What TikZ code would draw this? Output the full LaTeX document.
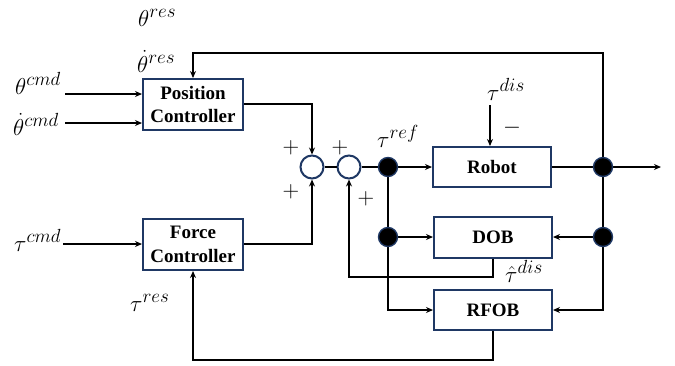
\documentclass[tikz,border=0pt]{standalone}
\usepackage{fix-cm}
\usepackage{fontspec}
\setmainfont{Liberation Serif}
\DeclareMathSizes{23}{23}{19}{14}
\usetikzlibrary{arrows.meta}
\definecolor{navy}{RGB}{31,56,100}
\tikzset{
  blk/.style={draw=navy, line width=2pt, fill=white, inner sep=0pt, align=center,
    font=\fontsize{19}{23.5}\selectfont\bfseries},
  sumc/.style={circle, draw=navy, line width=2pt, fill=white, minimum size=23pt, inner sep=0pt},
  dotc/.style={circle, draw=navy, line width=1.4pt, fill=black, minimum size=19pt, inner sep=0pt},
  wire/.style={line width=2pt, black},
  arr/.style={wire, -{Stealth[length=7pt,width=6pt]}},
  lbl/.style={inner sep=0pt, font=\fontsize{23}{27}\selectfont},
}
\begin{document}
\begin{tikzpicture}[x=1pt,y=-1pt]
\path[use as bounding box] (0,0) rectangle (675,365);
% blocks
\node[blk, minimum width=100pt, minimum height=51pt] (pc) at (193,104.5) {Position\\Controller};
\node[blk, minimum width=100pt, minimum height=51pt] (fc) at (193,244.5) {Force\\Controller};
\node[blk, minimum width=118pt, minimum height=40pt] (robot) at (492,167) {Robot};
\node[blk, minimum width=118pt, minimum height=41pt] (dob) at (493,237) {DOB};
\node[blk, minimum width=118pt, minimum height=40pt] (rfob) at (493,310) {RFOB};
% junctions
\node[sumc] (s1) at (312,167) {};
\node[sumc] (s2) at (349,167) {};
% coordinates
\coordinate (in1) at (65,94);
\coordinate (in2) at (65,123);
\coordinate (in3) at (63,244);
\coordinate (out) at (661,167);
\coordinate (dis) at (490,105);
\coordinate (fbtop) at (603,53);
\coordinate (c1) at (349,277);
\coordinate (c2) at (193,360);
\coordinate (p1) at (388,167);
\coordinate (p2) at (388,237);
\coordinate (p3) at (603,167);
\coordinate (p4) at (603,237);
% wires
\draw[arr] (in1) -- (in1 -| pc.west);
\draw[arr] (in2) -- (in2 -| pc.west);
\draw[arr] (in3) -- (in3 -| fc.west);
\draw[arr] (pc.east |- 0,104) -| (s1.north);
\draw[arr] (fc.east |- 0,244) -| (s1.south);
\draw[wire] (s1.east) -- (s2.west);
\draw[wire] (s2.east) -- (p1);
\draw[arr] (p1) -- (robot.west);
\draw[wire] (robot.east) -- (p3);
\draw[arr] (p3) -- (out);
\draw[arr] (dis) -- (dis |- robot.north);
\draw[wire] (p1) -- (p2);
\draw[arr] (p2) -- (dob.west);
\draw[arr] (p2) |- (rfob.west);
\draw[wire] (p3) -- (p4);
\draw[arr] (p4) -- (dob.east);
\draw[arr] (p4) |- (rfob.east);
\draw[arr] (p3) -- (fbtop) -| (pc.north);
\draw[arr] (dob.south) |- (c1) -- (s2.south);
\draw[arr] (rfob.south) |- (c2) -- (fc.south);
% dots
\node[dotc] (d1) at (p1) {};
\node[dotc] (d2) at (p2) {};
\node[dotc] (d3) at (p3) {};
\node[dotc] (d4) at (p4) {};
% labels
\node[lbl, anchor=base west] (lthres) at (138,26) {$\theta^{res}$};
\node[lbl, anchor=base west] (lthdres) at (137,72) {$\dot\theta^{res}$};
\node[lbl, anchor=base west] (lthcmd) at (15,94) {$\theta^{cmd}$};
\node[lbl, anchor=base west] (lthdcmd) at (13,135) {$\dot\theta^{cmd}$};
\node[lbl, anchor=base west] (ltacmd) at (14,251) {$\tau^{cmd}$};
\node[lbl, anchor=base west] (ltares) at (130,311) {$\tau^{res}$};
\node[lbl, anchor=base west] (ltaref) at (377,147) {$\tau^{ref}$};
\node[lbl, anchor=base west] (ltadis) at (487,100) {$\tau^{dis}$};
\node[lbl, anchor=base west] (ltahat) at (505,282) {$\hat\tau^{dis}$};
\node[lbl] (minus) at (512,128) {$-$};
\node[lbl] (pl1) at (291,148) {$+$};
\node[lbl] (pl2) at (291,192) {$+$};
\node[lbl] (pl3) at (340,148) {$+$};
\node[lbl] (pl4) at (366,199) {$+$};
\end{tikzpicture}
\end{document}
